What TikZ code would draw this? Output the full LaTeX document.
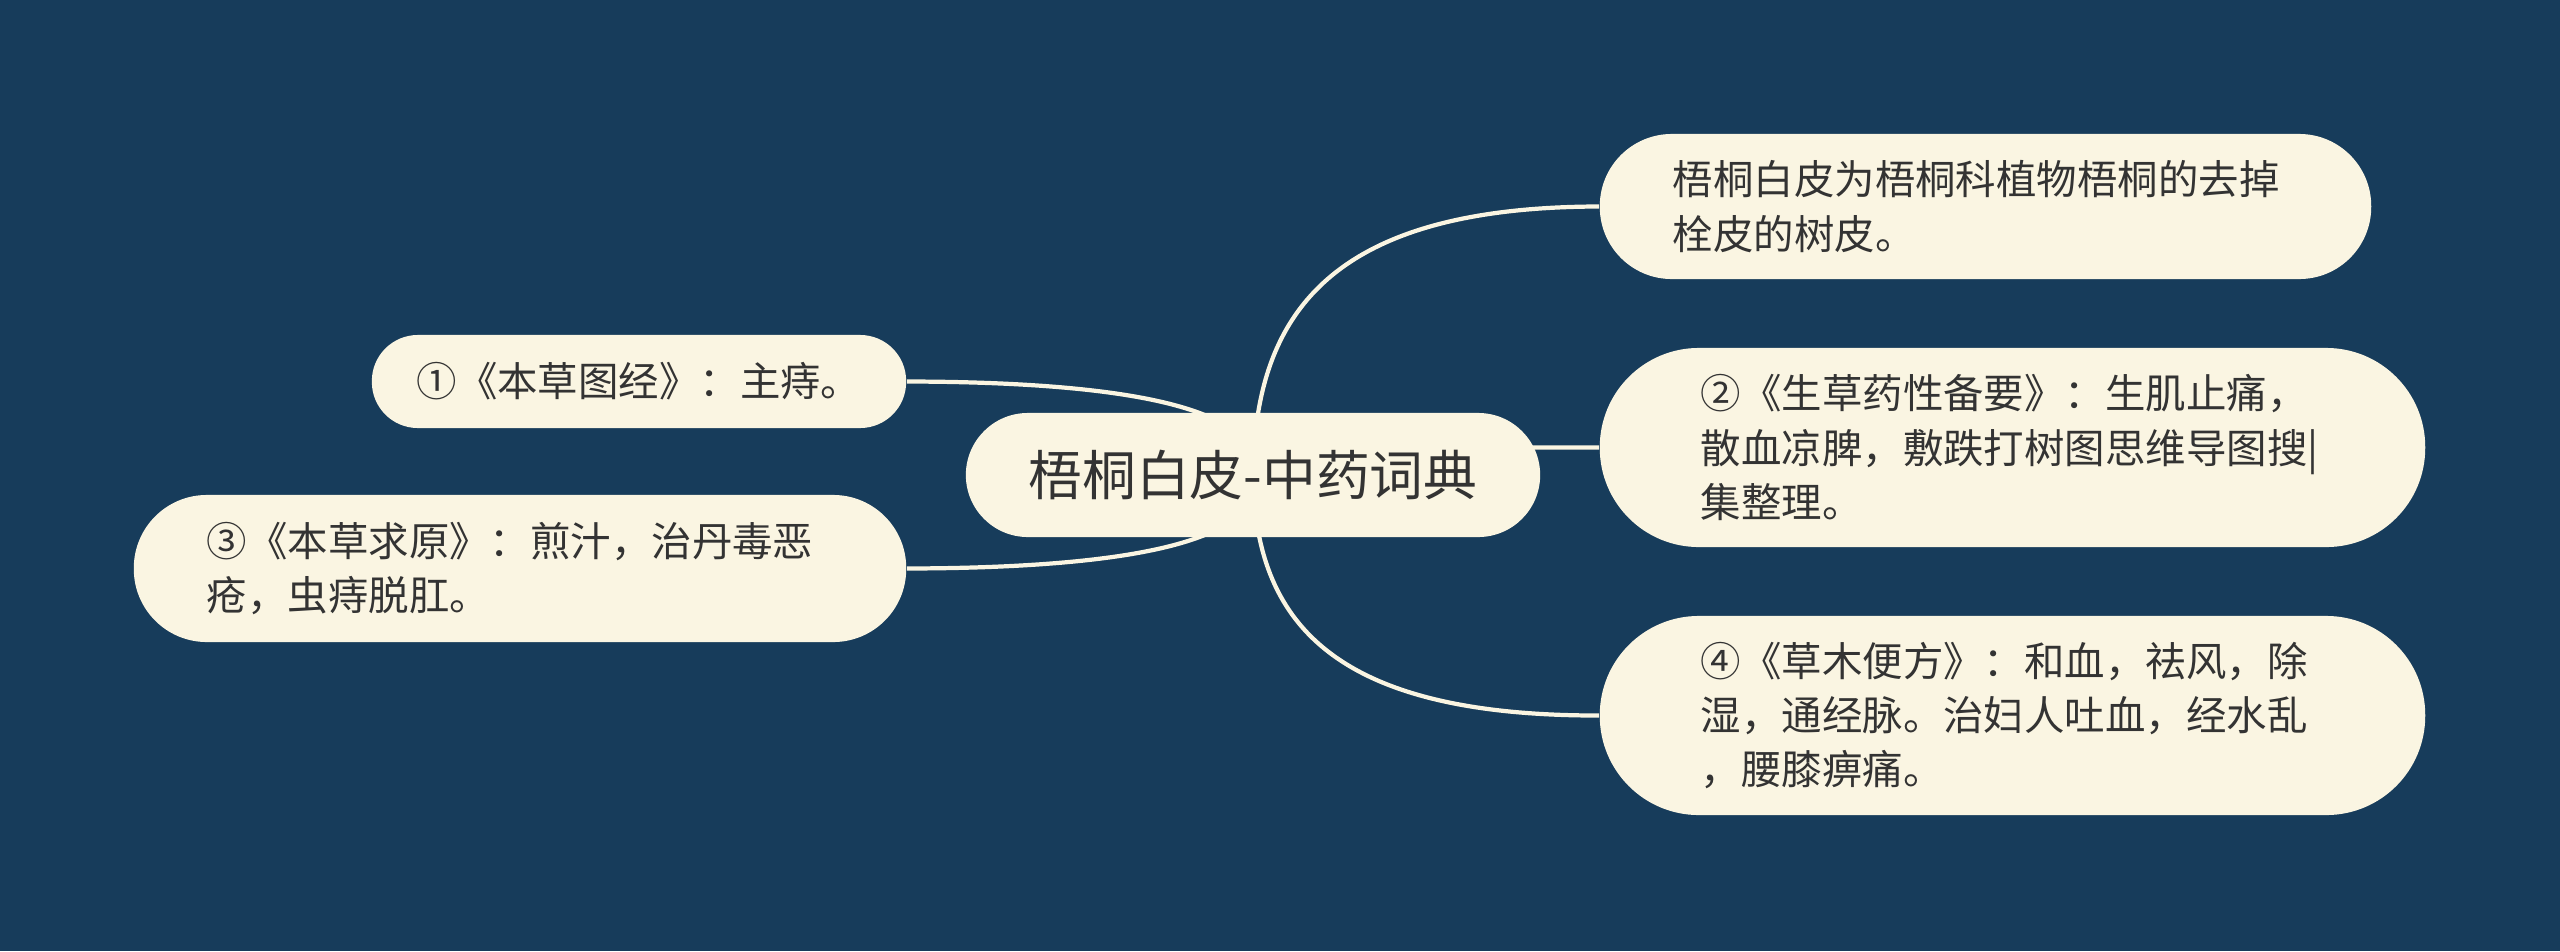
\documentclass[tikz,border=0pt]{standalone}
\usepackage{xcolor}
\usepackage{fontspec}
\setmainfont{Noto Sans CJK SC}
\usepackage{tikz}
\usetikzlibrary{backgrounds}

\definecolor{navybg}{HTML}{173C5B}
\definecolor{creamfill}{HTML}{FAF5E2}
\definecolor{inkgray}{HTML}{333333}

\begin{document}
\begin{tikzpicture}[
  x=0.01cm, y=-0.01cm,
  every node/.style={text=inkgray, inner sep=0pt},
  topic/.style={fill=creamfill, rounded corners=#1, align=left,
                font=\fontsize{11.5}{15.4}\selectfont},
  rootbox/.style={fill=creamfill, rounded corners=0.62cm,
                  minimum width=5.74cm, minimum height=1.24cm,
                  font=\fontsize{15.3}{18}\selectfont},
  branch/.style={draw=creamfill, line width=1.2pt},
]
\useasboundingbox (0,0) rectangle (2560,951);

% central topic
\node[rootbox] (root) at (1253,475) {梧桐白皮-中药词典};

% right side
\node[topic=0.72cm, minimum width=7.71cm, minimum height=1.45cm, text width=6.25cm]
  (src) at (1985.5,206.5) {梧桐白皮为梧桐科植物梧桐的去掉\\栓皮的树皮。};
\node[topic=0.99cm, minimum width=8.25cm, minimum height=1.99cm, text width=6.23cm]
  (shengcao) at (2012.5,447.5) {②《生草药性备要》：生肌止痛，\\散血凉脾，敷跌打树图思维导图搜|\\集整理。};
\node[topic=0.99cm, minimum width=8.25cm, minimum height=1.99cm, text width=6.23cm]
  (caomu) at (2012.5,715.5) {④《草木便方》：和血，祛风，除\\湿，通经脉。治妇人吐血，经水乱\\，腰膝痹痛。};

% left side
\node[topic=0.46cm, minimum width=5.34cm, minimum height=0.93cm]
  (tujing) at (639,381.5) {①《本草图经》：主痔。};
\node[topic=0.73cm, minimum width=7.72cm, minimum height=1.47cm, text width=6.26cm]
  (qiuyuan) at (520,568.5) {③《本草求原》：煎汁，治丹毒恶\\疮，虫痔脱肛。};

% branches behind the boxes
\begin{pgfonlayer}{background}
\fill[navybg] (0,0) rectangle (2560,951);
\draw[branch] (root.center) .. controls (1255,314) and (1330,207) .. (src.west);
\draw[branch] (root.center) .. controls (1300,447) and (1450,447) .. (shengcao.west);
\draw[branch] (root.center) .. controls (1255,620) and (1330,716) .. (caomu.west);
\draw[branch] (root.center) .. controls (1265,413) and (1148,382) .. (tujing.east);
\draw[branch] (root.center) .. controls (1265,537) and (1148,568) .. (qiuyuan.east);
\end{pgfonlayer}
\end{tikzpicture}
\end{document}
